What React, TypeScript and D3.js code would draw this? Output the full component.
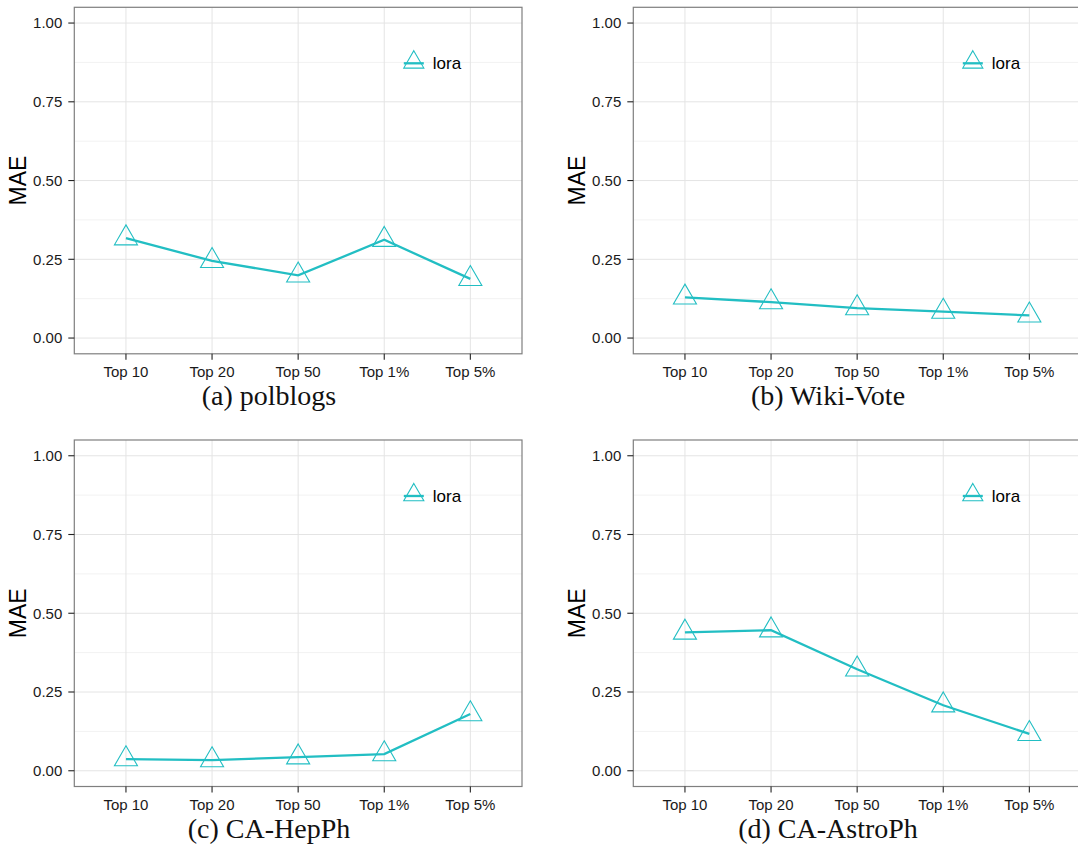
import React from "react";
import * as d3 from "d3";

const categories = ["Top 10", "Top 20", "Top 50", "Top 1%", "Top 5%"];
const yTicks = [0, 0.25, 0.5, 0.75, 1];
const yMinor = [0.125, 0.375, 0.625, 0.875];
const seriesName = "lora";

const polblogs = [0.317, 0.245, 0.199, 0.312, 0.188];
const wikiVote = [0.129, 0.114, 0.095, 0.084, 0.072];
const caHepPh = [0.037, 0.034, 0.043, 0.053, 0.18];
const caAstroPh = [0.439, 0.446, 0.322, 0.208, 0.117];

const captions = ["(a) polblogs", "(b) Wiki-Vote", "(c) CA-HepPh", "(d) CA-AstroPh"];
const panelValues = [polblogs, wikiVote, caHepPh, caAstroPh];

const COLOR = "#22BEC3";
const PW = 447.7;
const PH = 346.5;
const origins = [
  [74.3, 7.3],
  [633.3, 7.3],
  [74.3, 440.0],
  [633.3, 440.0],
];

function triPath(cx: number, cy: number, r: number) {
  const hx = r * 0.866;
  return `M${cx},${cy - r}L${cx + hx},${cy + r / 2}L${cx - hx},${cy + r / 2}Z`;
}

function Panel({ idx }: { idx: number }) {
  const [ox, oy] = origins[idx];
  const values = panelValues[idx];
  const x = d3.scalePoint<string>().domain(categories).range([0, PW]).padding(0.6);
  const y = d3.scaleLinear().domain([-0.05, 1.05]).range([PH, 0]);
  const line = d3
    .line<number>()
    .x((_, i) => x(categories[i]) as number)
    .y((v) => y(v));
  const legX = 339.5;
  const legY = 56;
  return (
    <g transform={`translate(${ox},${oy})`}>
      <rect x={0} y={0} width={PW} height={PH} fill="#fff" />
      {yMinor.map((t) => (
        <line key={"m" + t} x1={0} x2={PW} y1={y(t)} y2={y(t)} stroke="#f2f2f2" strokeWidth={1} />
      ))}
      {yTicks.map((t) => (
        <line key={"g" + t} x1={0} x2={PW} y1={y(t)} y2={y(t)} stroke="#e4e4e4" strokeWidth={1} />
      ))}
      {categories.map((c) => (
        <line key={"v" + c} x1={x(c)} x2={x(c)} y1={0} y2={PH} stroke="#e4e4e4" strokeWidth={1} />
      ))}
      <path d={line(values) || ""} fill="none" stroke={COLOR} strokeWidth={2.3} />
      {values.map((v, i) => (
        <path
          key={"p" + i}
          d={triPath(x(categories[i]) as number, y(v), 13.3)}
          fill="none"
          stroke={COLOR}
          strokeWidth={1.1}
        />
      ))}
      {/* legend */}
      <line x1={legX - 10} x2={legX + 10} y1={legY} y2={legY} stroke={COLOR} strokeWidth={2.3} />
      <path d={triPath(legX, legY - 1, 11.6)} fill="none" stroke={COLOR} strokeWidth={1.1} />
      <text x={legX + 19} y={legY + 6} fontSize={17} fontFamily="Liberation Sans, Arial, sans-serif" fill="#000">
        {seriesName}
      </text>
      <rect x={0} y={0} width={PW} height={PH} fill="none" stroke="#7f7f7f" strokeWidth={1.2} />
      {/* y axis */}
      {yTicks.map((t) => (
        <g key={"yt" + t}>
          <line x1={-6} x2={0} y1={y(t)} y2={y(t)} stroke="#222" strokeWidth={1.1} />
          <text
            x={-12}
            y={y(t)}
            dy="0.36em"
            textAnchor="end"
            fontSize={15}
            fontFamily="Liberation Sans, Arial, sans-serif"
            fill="#1a1a1a"
          >
            {t.toFixed(2)}
          </text>
        </g>
      ))}
      {categories.map((c) => (
        <g key={"xt" + c}>
          <line x1={x(c)} x2={x(c)} y1={PH} y2={PH + 6} stroke="#222" strokeWidth={1.1} />
          <text
            x={x(c)}
            y={PH + 23.5}
            textAnchor="middle"
            fontSize={15}
            fontFamily="Liberation Sans, Arial, sans-serif"
            fill="#1a1a1a"
          >
            {c}
          </text>
        </g>
      ))}
      <text
        transform={`translate(${18 - 74.3 + 8},${PH / 2}) rotate(-90)`}
        textAnchor="middle"
        fontSize={23}
        fontFamily="Liberation Sans, Arial, sans-serif"
        fill="#000"
      >
        MAE
      </text>
      <text
        x={269 - 74.3}
        y={397.7}
        textAnchor="middle"
        fontSize={28}
        fontFamily="Liberation Serif, Times New Roman, serif"
        fill="#111"
      >
        {captions[idx]}
      </text>
    </g>
  );
}

export default function App() {
  return (
    <svg
      width={1078}
      height={852}
      style={{ position: "absolute", left: 0, top: 0, background: "#fff" }}
    >
      <rect width={1078} height={852} fill="#fff" />
      {[0, 1, 2, 3].map((i) => (
        <Panel key={i} idx={i} />
      ))}
    </svg>
  );
}
